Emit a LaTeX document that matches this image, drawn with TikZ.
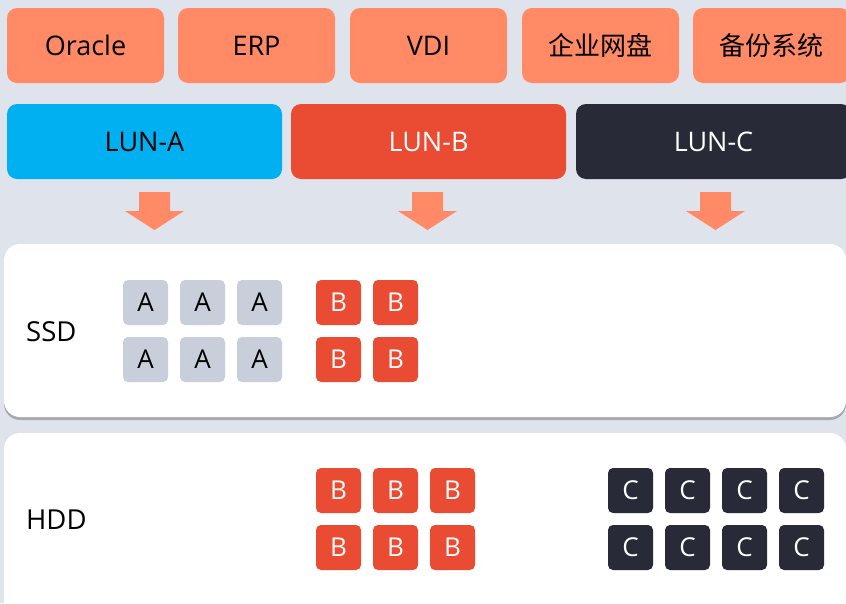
\documentclass[tikz,border=0pt]{standalone}
\usepackage{fontspec}
\setmainfont{Open Sans}
\newfontfamily\cjk{Noto Sans CJK SC}
\usetikzlibrary{shadows,calc}
\definecolor{bg}{HTML}{DFE3EC}
\definecolor{app}{HTML}{FF8A65}
\definecolor{luna}{HTML}{00B0F0}
\definecolor{lunb}{HTML}{E94B33}
\definecolor{lunc}{HTML}{282A37}
\definecolor{cella}{HTML}{C9CFDA}
\tikzset{
  appbox/.style={fill=app, rounded corners=10pt, minimum width=157pt, minimum height=75pt, inner sep=0pt, font=\fontsize{27}{30}\selectfont},
  lunbox/.style={rounded corners=10pt, minimum width=275pt, minimum height=75pt, inner sep=0pt, font=\fontsize{27}{30}\selectfont},
  tier/.style={fill=white, rounded corners=16pt, drop shadow={shadow xshift=0pt, shadow yshift=-3pt, opacity=0.45, fill=black!60}},
  cell/.style={rounded corners=5pt, minimum width=45pt, minimum height=45pt, inner sep=0pt, font=\fontsize{26}{28}\selectfont},
  ca/.style={cell, fill=cella, text=black},
  cb/.style={cell, fill=lunb, text=white},
  cc/.style={cell, fill=lunc, text=white},
  down/.style={fill=app},
  lbl/.style={font=\fontsize{27.5}{30}\selectfont, anchor=west, inner sep=0pt}
}
\begin{document}
\begin{tikzpicture}[x=1pt,y=-1pt]
\fill[bg] (0,0) rectangle (846,603);
\useasboundingbox (0,0) rectangle (846,603);
% applications
\node[appbox] (oracle) at (85.5,45.5) {Oracle};
\node[appbox] (erp) at (256.5,45.5) {ERP};
\node[appbox] (vdi) at (428.5,45.5) {VDI};
\node[appbox, font=\cjk\fontsize{26}{28}\selectfont] (pan) at (600.5,45.5) {企业网盘};
\node[appbox, font=\cjk\fontsize{26}{28}\selectfont] (bak) at (771.5,45.5) {备份系统};
% LUNs
\node[lunbox, fill=luna, text=black] (lA) at (144.5,141.5) {LUN-A};
\node[lunbox, fill=lunb, text=white] (lB) at (428.5,141.5) {LUN-B};
\node[lunbox, fill=lunc, text=white] (lC) at (713.5,141.5) {LUN-C};
% arrows
\foreach \cx/\n in {154.5/lA,427.5/lB,715.5/lC}{
  \fill[down] (\cx-15.5,192) -- (\cx+15.5,192) -- (\cx+15.5,211) -- (\cx+29.5,211) -- (\cx,230) -- (\cx-29.5,211) -- (\cx-15.5,211) -- cycle;
}
% tiers
\path[tier] (4,244) rectangle (846,417);
\path[tier] (4,433) rectangle (846,640);
\node[lbl] (ssd) at (26,332) {SSD};
\node[lbl] (hdd) at (26,520) {HDD};
% SSD cells
\foreach \i/\x in {1/145.5,2/202.5,3/259.5}{
  \node[ca] (sa1\i) at (\x,302.5) {A};
  \node[ca] (sa2\i) at (\x,359.5) {A};
}
\foreach \i/\x in {1/338.5,2/395.5}{
  \node[cb] (sb1\i) at (\x,302.5) {B};
  \node[cb] (sb2\i) at (\x,359.5) {B};
}
% HDD cells
\foreach \i/\x in {1/338.5,2/395.5,3/452.5}{
  \node[cb] (hb1\i) at (\x,490.5) {B};
  \node[cb] (hb2\i) at (\x,547.5) {B};
}
\foreach \i/\x in {1/630.5,2/687.5,3/744.5,4/801.5}{
  \node[cc] (hc1\i) at (\x,490.5) {C};
  \node[cc] (hc2\i) at (\x,547.5) {C};
}
\end{tikzpicture}
\end{document}
